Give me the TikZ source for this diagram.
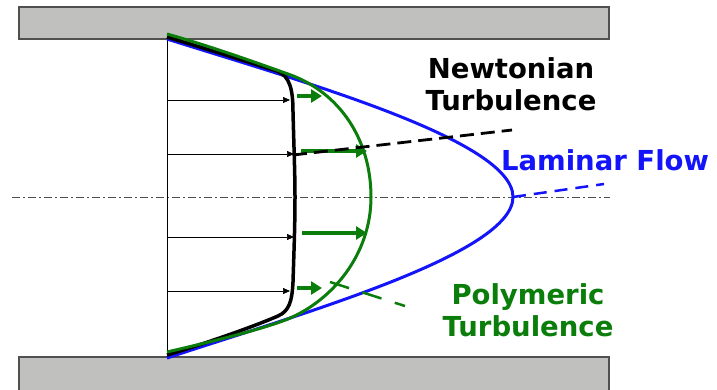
\documentclass[tikz,border=0pt]{standalone}
\usepackage{fontspec}
\setmainfont{DejaVu Sans}
\usetikzlibrary{arrows.meta}
\definecolor{wallgray}{RGB}{192,193,191}
\definecolor{walledge}{RGB}{80,80,80}
\definecolor{pblue}{RGB}{20,20,250}
\definecolor{pgreen}{RGB}{10,125,10}
\tikzset{
  wall/.style={fill=wallgray,draw=walledge,line width=1.3pt},
  thinarrow/.style={line width=0.7pt,-{Triangle[length=7pt,width=6pt]}},
  greenarrow/.style={draw=pgreen,line width=4pt,-{Triangle[length=11pt,width=13pt]}},
  lbl/.style={font=\bfseries\fontsize{27.5}{30}\selectfont,align=center,inner sep=0pt}
}
\begin{document}
\begin{tikzpicture}[x=1pt,y=-1pt]
\useasboundingbox[fill=white] (0,0) rectangle (717,389);
% walls
\draw[wall] (19,7) rectangle (609,39);
\draw[wall] (19,357) rectangle (609,400);
% centre line
\draw[walledge,line width=0.8pt,dash pattern=on 8pt off 3pt on 2pt off 3pt] (12,197) -- (610,197);
% inlet line
\draw[line width=0.7pt] (167,39) -- (167,357);
% laminar parabola
\draw[pblue,line width=3pt] (167,39) .. controls (300,81) and (513,140) .. (513,197)
  .. controls (513,254) and (300,314) .. (167,358);
% Newtonian turbulence
\draw[black,line width=3.5pt,line join=round] (167,37) .. controls (210,50) and (255,64) .. (277,71)
  .. controls (290,76) and (293,90) .. (293,112) .. controls (294,150) and (295,175) .. (295,197)
  .. controls (295,225) and (294,250) .. (293,282) .. controls (292,302) and (289,311) .. (278,316)
  .. controls (255,326) and (210,342) .. (167,355);
% polymeric turbulence
\draw[pgreen,line width=3pt,line join=round] (167,34) .. controls (210,46) and (260,64) .. (288,74)
  .. controls (340,92) and (371,140) .. (371,197)
  .. controls (371,254) and (333,300) .. (288,319)
  .. controls (260,330) and (210,342) .. (167,352);
% thin velocity arrows
\coordinate (a1s) at (167,100); \coordinate (a1e) at (290,100);
\coordinate (a2s) at (167,154); \coordinate (a2e) at (294,154);
\coordinate (a3s) at (167,237); \coordinate (a3e) at (294,237);
\coordinate (a4s) at (167,291); \coordinate (a4e) at (290,291);
\draw[thinarrow] (a1s) -- (a1e);
\draw[thinarrow] (a2s) -- (a2e);
\draw[thinarrow] (a3s) -- (a3e);
\draw[thinarrow] (a4s) -- (a4e);
% green arrows
\coordinate (g1s) at (297,96);  \coordinate (g1e) at (322,96);
\coordinate (g2s) at (301,151); \coordinate (g2e) at (367,151);
\coordinate (g3s) at (302,233); \coordinate (g3e) at (367,233);
\coordinate (g4s) at (297,288); \coordinate (g4e) at (322,288);
\draw[greenarrow] (g1s) -- (g1e);
\draw[greenarrow] (g2s) -- (g2e);
\draw[greenarrow] (g3s) -- (g3e);
\draw[greenarrow] (g4s) -- (g4e);
% labels
\node[lbl,text=black] (newt) at (511,84) {Newtonian\\[2pt]Turbulence};
\node[lbl,text=pblue] (lam) at (605,160) {Laminar Flow};
\node[lbl,text=pgreen] (poly) at (528,310) {Polymeric\\[2pt]Turbulence};
% leader lines
\coordinate (nl) at (293,155); \coordinate (nle) at (512,130);
\coordinate (ll) at (513,197); \coordinate (lle) at (604,184);
\coordinate (pl) at (330,282); \coordinate (ple) at (405,306);
\draw[black,line width=2.8pt,dash pattern=on 14pt off 7pt] (nl) -- (nle);
\draw[pblue,line width=2.5pt,dash pattern=on 13pt off 8pt] (ll) -- (lle);
\draw[pgreen,line width=2.5pt,dash pattern=on 20pt off 14pt] (pl) -- (ple);
\end{tikzpicture}
\end{document}
